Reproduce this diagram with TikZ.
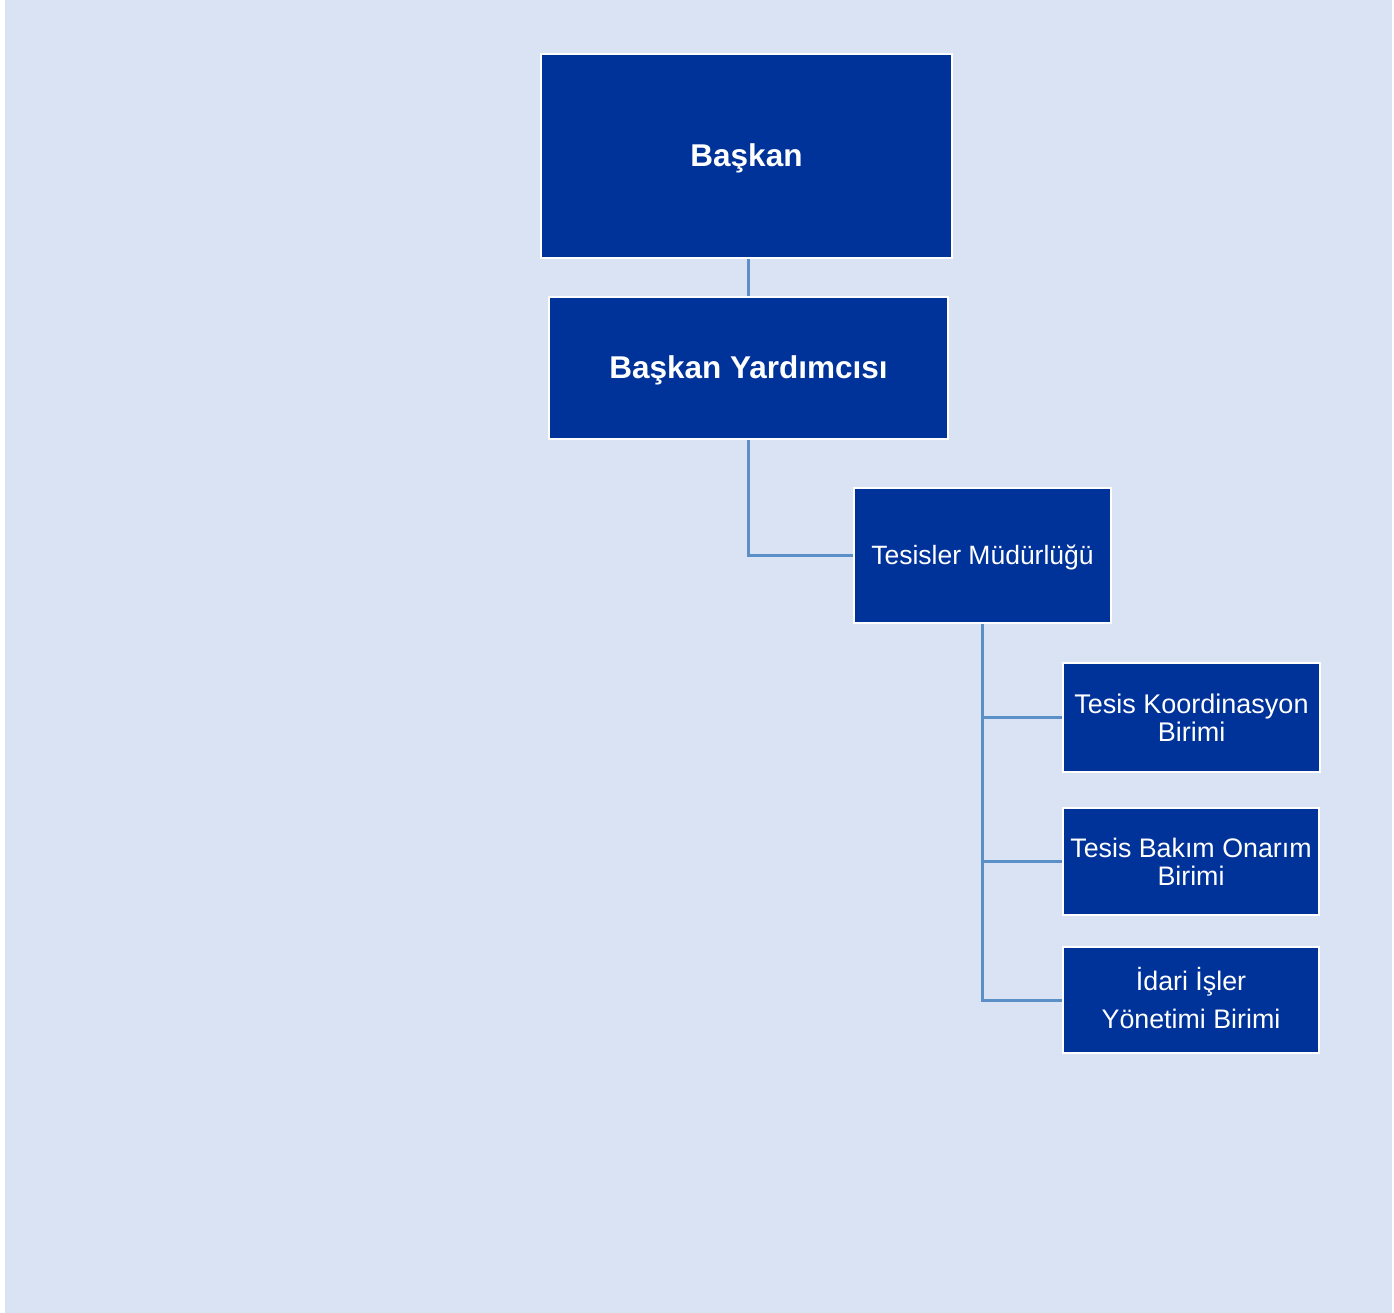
\documentclass[tikz,border=0pt]{standalone}
\usepackage{fontspec}
\setmainfont{Liberation Sans}
\definecolor{pagebg}{HTML}{DAE3F3}
\definecolor{boxblue}{HTML}{003399}
\definecolor{linkblue}{HTML}{5B8FC7}
\pgfdeclarelayer{bg}
\pgfdeclarelayer{links}
\pgfsetlayers{bg,links,main}
% nudge a line of text down (extra height) or up (extra depth) inside its node
\newcommand{\nudgedown}[1]{\raisebox{0pt}[\dimexpr\height+4pt\relax][\depth]{#1}}
\newcommand{\nudgeup}[1]{\raisebox{0pt}[\height][\dimexpr\depth+4pt\relax]{#1}}
\begin{document}
\begin{tikzpicture}[x=1pt,y=-1pt,
  unit/.style={draw=white, line width=2.5pt, fill=boxblue, text=white,
    inner sep=0pt, align=center},
  link/.style={draw=linkblue, line width=3pt}]
\useasboundingbox (0,0) rectangle (1394,1313);
\begin{pgfonlayer}{bg}
  \fill[white] (0,0) rectangle (1394,1313);
  \fill[pagebg] (5,0) rectangle (1392,1313);
\end{pgfonlayer}

\node[unit, minimum width=411pt, minimum height=204pt,
  font=\fontsize{31.5}{36}\selectfont\bfseries] (baskan) at (746.5,156) {\nudgedown{Başkan}};
\node[unit, minimum width=399pt, minimum height=142pt,
  font=\fontsize{31.5}{36}\selectfont\bfseries] (yard) at (748.5,368) {\nudgedown{Başkan Yardımcısı}};
\node[unit, minimum width=257pt, minimum height=135pt,
  font=\fontsize{26.5}{28}\selectfont] (tesisler) at (982.5,555.5) {\nudgedown{Tesisler Müdürlüğü}};
\node[unit, minimum width=257pt, minimum height=109pt,
  font=\fontsize{27}{28}\selectfont] (koord) at (1191.5,717.5) {Tesis Koordinasyon\\Birimi};
\node[unit, minimum width=256pt, minimum height=107pt,
  font=\fontsize{26.8}{28}\selectfont] (bakim) at (1191,861.5) {Tesis Bakım Onarım\\Birimi};
\node[unit, minimum width=256pt, minimum height=106pt,
  font=\fontsize{26.8}{38.5}\selectfont] (idari) at (1191,1000) {İdari İşler\\\nudgeup{Yönetimi Birimi}};

\begin{pgfonlayer}{links}
  \draw[link] (yard.north) -- (yard.north |- baskan.south);
  \draw[link] (yard.south) |- (tesisler.west);
  \draw[link] (tesisler.south) |- (koord.west);
  \draw[link] (tesisler.south) |- (bakim.west);
  \draw[link] (tesisler.south) |- (idari.west);
\end{pgfonlayer}
\end{tikzpicture}
\end{document}
